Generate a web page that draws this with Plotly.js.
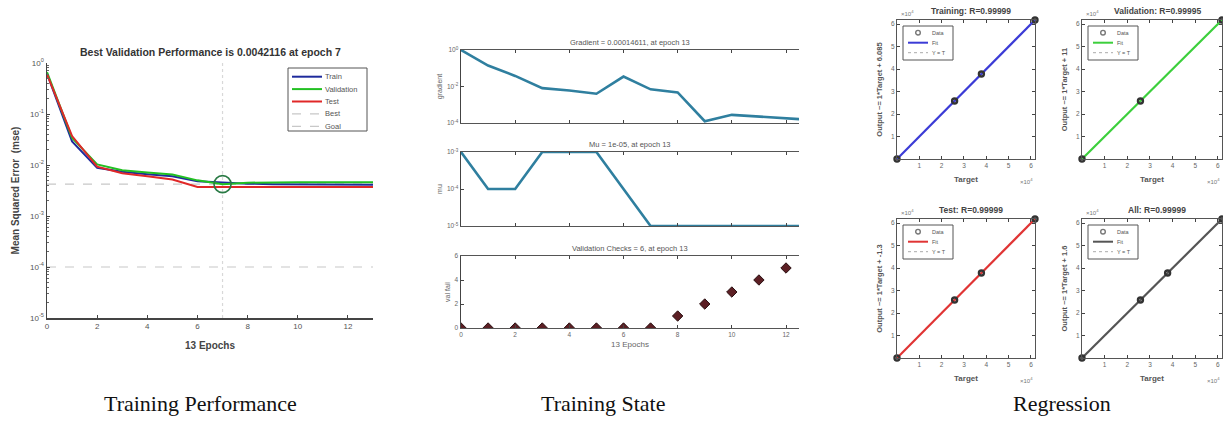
<!DOCTYPE html>
<html>
<head>
<meta charset="utf-8">
<script src="https://cdn.plot.ly/plotly-3.0.1.min.js"></script>
<style>html,body{margin:0;padding:0;background:#fff;}#chart{width:1223px;height:443px;}</style>
</head>
<body>
<div id="chart"></div>
<script>
// ---------- data ----------
const epochs = [0,1,2,3,4,5,6,7,8,9,10,11,12,13];
const trainPerf = [0.62,0.029,0.0088,0.0074,0.0066,0.0060,0.0048,0.0045,0.0043,0.0042,0.0042,0.0041,0.0041,0.0041];
const valPerf   = [0.66,0.034,0.0103,0.0079,0.0071,0.0065,0.0050,0.0042116,0.0045,0.0046,0.0046,0.0046,0.0046,0.0046];
const testPerf  = [0.60,0.037,0.0093,0.0069,0.0060,0.0052,0.0037,0.0037,0.0037,0.0037,0.0037,0.0037,0.0037,0.0037];
const bestEpoch = 7;
const bestPerf = 0.0042116;
const goalPerf = 1e-4;
const perfNames = ['Train','Validation','Test','Best','Goal'];

const gradient = [1,0.14,0.038,0.0081,0.006,0.004,0.035,0.007,0.0047,0.000125,0.00028,0.00023,0.000175,0.00014611];
const mu = [1e-3,1e-4,1e-4,1e-3,1e-3,1e-3,1e-4,1e-5,1e-5,1e-5,1e-5,1e-5,1e-5,1e-5];
const valFail = [0,0,0,0,0,0,0,0,1,2,3,4,5,6];

const regNames = ['Training','Validation','Test','All'];
const regR = ['0.99999','0.99995','0.99999','0.99999'];
const regOffsets = ['6.085','11','-1.3','1.6'];
const regTargets = [
  [0,25800,37800,61800],
  [0,25800,61800],
  [0,25800,37800,61800],
  [0,25800,37800,61800]
];
const regOutputs = [
  [0,25800,37800,61800],
  [0,25800,61800],
  [0,25800,37800,61800],
  [0,25800,37800,61800]
];
const regLegendNames = ['Data','Fit','Y = T'];
const regColors = ['#3b3bd6','#3ccf3c','#e03434','#555555'];
const regTickVals = [10000,20000,30000,40000,50000,60000];
const regTickText = ['1','2','3','4','5','6'];

const captions = ['Training Performance','Training State','Regression'];

// ---------- helpers ----------
const W = 1223, H = 443;
const px = v => v / W;
const py = v => 1 - v / H;
const sup = n => '10<sup>' + n + '</sup>';

const perfStyles = [
  {color:'#1e2a9c', width:2, dash:'solid'},
  {color:'#22c022', width:2, dash:'solid'},
  {color:'#e02828', width:2, dash:'solid'},
  {color:'#c8c8c8', width:1.2, dash:'dash'},
  {color:'#c8c8c8', width:1.2, dash:'dash'}
];

const traces = [];
// Performance panel
traces.push({x:[0,13], y:[goalPerf,goalPerf], xaxis:'x', yaxis:'y', mode:'lines', name:perfNames[4], line:perfStyles[4]});
traces.push({x:[0,13], y:[bestPerf,bestPerf], xaxis:'x', yaxis:'y', mode:'lines', name:perfNames[3], line:perfStyles[3]});
traces.push({x:[bestEpoch,bestEpoch], y:[1e-5,1], xaxis:'x', yaxis:'y', mode:'lines',
  line:{color:'#d8d8d8', width:1.2, dash:'dot'}});
traces.push({x:epochs, y:trainPerf, xaxis:'x', yaxis:'y', mode:'lines', name:perfNames[0], line:perfStyles[0]});
traces.push({x:epochs, y:valPerf, xaxis:'x', yaxis:'y', mode:'lines', name:perfNames[1], line:perfStyles[1]});
traces.push({x:epochs, y:testPerf, xaxis:'x', yaxis:'y', mode:'lines', name:perfNames[2], line:perfStyles[2]});
traces.push({x:[bestEpoch], y:[bestPerf], xaxis:'x', yaxis:'y', mode:'markers',
  marker:{symbol:'circle-open', size:17, color:'#2a7a45', line:{width:1.6}}});

// Training state panel
traces.push({x:epochs, y:gradient, xaxis:'x2', yaxis:'y2', mode:'lines', line:{color:'#2f7f9f', width:2.6}});
traces.push({x:epochs, y:mu, xaxis:'x3', yaxis:'y3', mode:'lines', line:{color:'#2f7f9f', width:2.6}});
traces.push({x:epochs, y:valFail, xaxis:'x4', yaxis:'y4', mode:'markers',
  marker:{symbol:'diamond', size:8, color:'#5c1f24', line:{color:'#2a1012', width:1}}});

// Regression panels
const regAxes = [5,6,7,8];
for (let i = 0; i < 4; i++) {
  const ax = regAxes[i];
  const t = regTargets[i], o = regOutputs[i];
  const lo = Math.min(...t), hi = Math.max(...t);
  traces.push({x:[lo,hi], y:[lo,hi], xaxis:'x'+ax, yaxis:'y'+ax, mode:'lines', name:regLegendNames[2],
    line:{color:'#aaaaaa', width:1, dash:'dot'}});
  traces.push({x:[lo,hi], y:[lo,hi], xaxis:'x'+ax, yaxis:'y'+ax, mode:'lines', name:regLegendNames[1],
    line:{color:regColors[i], width:2.2}});
  traces.push({x:t, y:o, xaxis:'x'+ax, yaxis:'y'+ax, mode:'markers', name:regLegendNames[0], cliponaxis:false,
    marker:{symbol:'circle-open', size:5, color:'#333', line:{width:2.4}}});
}

// ---------- layout ----------
const tickFont = {family:'Liberation Sans, Arial, sans-serif', size:8, color:'#555'};
const smallFont = {family:'Liberation Sans, Arial, sans-serif', size:6.5, color:'#666'};
const layout = {
  width:W, height:H, margin:{l:0,r:0,t:0,b:0}, paper_bgcolor:'#fff', plot_bgcolor:'#fff',
  font:{family:'Liberation Sans, Arial, sans-serif', color:'#333'},
  showlegend:false,
  // performance
  xaxis:{domain:[px(47),px(373)], range:[0,13], tickvals:[0,2,4,6,8,10,12], ticks:'inside', ticklen:3,
    showline:true, linecolor:'#444', linewidth:1.5, showgrid:false, zeroline:false, tickfont:tickFont,
    anchor:'y', title:{text:'<b>13 Epochs</b>', font:{size:10, color:'#444'}, standoff:12}},
  yaxis:{domain:[py(318),py(63)], type:'log', range:[-5,0], tickvals:[1e-5,1e-4,1e-3,1e-2,1e-1,1],
    ticktext:[sup('-5'),sup('-4'),sup('-3'),sup('-2'),sup('-1'),sup('0')], ticks:'inside', ticklen:3,
    minor:{ticks:'inside', ticklen:2, tickcolor:'#666', dtick:'D1', showgrid:false},
    showline:true, linecolor:'#444', linewidth:1.5, showgrid:false, zeroline:false, tickfont:tickFont,
    anchor:'x', title:{text:'<b>Mean Squared Error  (mse)</b>', font:{size:10, color:'#444'}, standoff:8}},
  // gradient
  xaxis2:{domain:[px(461),px(799)], range:[0,12.48], tickvals:[0,2,4,6,8,10,12], showticklabels:false, ticks:'inside', ticklen:3,
    showline:true, mirror:'ticks', linecolor:'#555', showgrid:false, zeroline:false, anchor:'y2'},
  yaxis2:{domain:[py(123),py(50)], type:'log', range:[-4,0], tickvals:[1e-4,1e-2,1], ticktext:[sup('-4'),sup('-2'),sup('0')],
    ticks:'inside', ticklen:3, showline:true, linecolor:'#444', linewidth:1.5, showgrid:false, zeroline:false, tickfont:smallFont, anchor:'x2',
    title:{text:'gradient', font:{size:7, color:'#666'}, standoff:3}},
  // mu
  xaxis3:{domain:[px(461),px(799)], range:[0,12.48], tickvals:[0,2,4,6,8,10,12], showticklabels:false, ticks:'inside', ticklen:3,
    showline:true, mirror:'ticks', linecolor:'#555', showgrid:false, zeroline:false, anchor:'y3'},
  yaxis3:{domain:[py(226),py(152)], type:'log', range:[-5,-3], tickvals:[1e-5,1e-4,1e-3], ticktext:[sup('-5'),sup('-4'),sup('-3')],
    ticks:'inside', ticklen:3, showline:true, linecolor:'#444', linewidth:1.5, showgrid:false, zeroline:false, tickfont:smallFont, anchor:'x3',
    title:{text:'mu', font:{size:7, color:'#666'}, standoff:3}},
  // val fail
  xaxis4:{domain:[px(461),px(799)], range:[0,12.48], tickvals:[0,2,4,6,8,10,12], ticks:'inside', ticklen:3,
    showline:true, mirror:'ticks', linecolor:'#555', showgrid:false, zeroline:false, anchor:'y4', tickfont:smallFont,
    title:{text:'13 Epochs', font:{size:8, color:'#666'}, standoff:4}},
  yaxis4:{domain:[py(328),py(256)], range:[0,6], tickvals:[0,2,4,6],
    ticks:'inside', ticklen:3, showline:true, linecolor:'#444', linewidth:1.5, showgrid:false, zeroline:false, tickfont:smallFont, anchor:'x4',
    title:{text:'val fail', font:{size:7, color:'#666'}, standoff:3}},
  annotations:[], shapes:[]
};

// compact legend box (drawn with shapes + text)
function drawLegend(left, top, w, h, rowTop, rowH, sx0, sx1, tx, fontSize, items) {
  layout.shapes.push({type:'rect', xref:'paper', yref:'paper', x0:px(left), x1:px(left+w), y0:py(top+h), y1:py(top),
    line:{color:'#555', width:1}, fillcolor:'#fff', layer:'above'});
  items.forEach((it, k) => {
    const yc = top + rowTop + k * rowH;
    if (it.marker) {
      const cx = left + (sx0 + sx1) / 2;
      layout.shapes.push({type:'circle', xref:'paper', yref:'paper', x0:px(cx-2.3), x1:px(cx+2.3), y0:py(yc+2.3), y1:py(yc-2.3),
        line:{color:it.marker, width:1.4}, layer:'above'});
    } else {
      layout.shapes.push({type:'line', xref:'paper', yref:'paper', x0:px(left+sx0), x1:px(left+sx1), y0:py(yc), y1:py(yc),
        line:{color:it.color, width:it.width, dash:it.dash}, layer:'above'});
    }
    layout.annotations.push({xref:'paper', yref:'paper', x:px(left+tx), y:py(yc), xanchor:'left', yanchor:'middle', showarrow:false,
      text:it.name, font:{size:fontSize, color:'#555'}});
  });
}

drawLegend(288, 68, 79, 63, 8.7, 12.4, 4, 34, 35, 7.5,
  perfNames.map((n, k) => ({name:n, color:perfStyles[k].color, width:perfStyles[k].width, dash:perfStyles[k].dash})));

// regression axes
const regX = [[897,1035],[1082,1222],[897,1035],[1082,1222]];
const regY = [[20,159],[20,159],[219,358],[219,358]];
for (let i = 0; i < 4; i++) {
  const ax = regAxes[i];
  const lo = Math.min(...regTargets[i]), hi = Math.max(...regTargets[i]);
  layout['xaxis'+ax] = {domain:[px(regX[i][0]),px(regX[i][1])], range:[lo,hi], tickvals:regTickVals, ticktext:regTickText,
    ticks:'inside', ticklen:3, showline:true, mirror:'ticks', linecolor:'#555', showgrid:false, zeroline:false,
    tickfont:smallFont, anchor:'y'+ax, title:{text:'<b>Target</b>', font:{size:8, color:'#555'}, standoff:8}};
  layout['yaxis'+ax] = {domain:[py(regY[i][1]),py(regY[i][0])], range:[lo,hi], tickvals:regTickVals, ticktext:regTickText,
    ticks:'inside', ticklen:3, showline:true, mirror:'ticks', linecolor:'#555', showgrid:false, zeroline:false,
    tickfont:smallFont, anchor:'x'+ax,
    title:{text:'<b>Output ~= 1*Target + ' + regOffsets[i] + '</b>', font:{size:7.5, color:'#555'}, standoff:7}};
  drawLegend(regX[i][0]+6, regY[i][0]+6, 50, 34, 6.7, 10, 5, 25, 27, 5.5, [
    {name:regLegendNames[0], marker:'#777'},
    {name:regLegendNames[1], color:regColors[i], width:2, dash:'solid'},
    {name:regLegendNames[2], color:'#aaa', width:1, dash:'dot'}
  ]);
  // subplot title
  layout.annotations.push({xref:'paper', yref:'paper', x:px((regX[i][0]+regX[i][1])/2+5), y:py(regY[i][0]-2),
    xanchor:'center', yanchor:'bottom', showarrow:false, text:'<b>' + regNames[i] + ': R=' + regR[i] + '</b>',
    font:{size:8.5, color:'#444'}});
  // exponent labels
  layout.annotations.push({xref:'paper', yref:'paper', x:px(regX[i][0]+2), y:py(regY[i][0]-1),
    xanchor:'left', yanchor:'bottom', showarrow:false, text:'\u00d710<sup>4</sup>', font:{size:6, color:'#777'}});
  layout.annotations.push({xref:'paper', yref:'paper', x:px(regX[i][1]), y:py(regY[i][1]+16),
    xanchor:'right', yanchor:'top', showarrow:false, text:'\u00d710<sup>4</sup>', font:{size:6, color:'#777'}});
}

// panel titles
layout.annotations.push({xref:'paper', yref:'paper', x:px(210), y:py(52), xanchor:'center', yanchor:'middle', showarrow:false,
  text:'<b>Best Validation Performance is ' + bestPerf + ' at epoch ' + bestEpoch + '</b>', font:{size:10.5, color:'#333'}});
layout.annotations.push({xref:'paper', yref:'paper', x:px(630), y:py(49), xanchor:'center', yanchor:'bottom', showarrow:false,
  text:'Gradient = ' + gradient[13] + ', at epoch 13', font:{size:7.5, color:'#555'}});
layout.annotations.push({xref:'paper', yref:'paper', x:px(630), y:py(151), xanchor:'center', yanchor:'bottom', showarrow:false,
  text:'Mu = 1e-05, at epoch 13', font:{size:7.5, color:'#555'}});
layout.annotations.push({xref:'paper', yref:'paper', x:px(630), y:py(255), xanchor:'center', yanchor:'bottom', showarrow:false,
  text:'Validation Checks = ' + valFail[13] + ', at epoch 13', font:{size:7.5, color:'#555'}});

// captions
const capX = [200, 603, 1062];
for (let i = 0; i < 3; i++) {
  layout.annotations.push({xref:'paper', yref:'paper', x:px(capX[i]), y:py(403), xanchor:'center', yanchor:'middle', showarrow:false,
    text:captions[i], font:{family:'Liberation Serif, Times New Roman, serif', size:22, color:'#111'}});
}

Plotly.newPlot('chart', traces, layout, {staticPlot:true, displayModeBar:false});
</script>
</body>
</html>
